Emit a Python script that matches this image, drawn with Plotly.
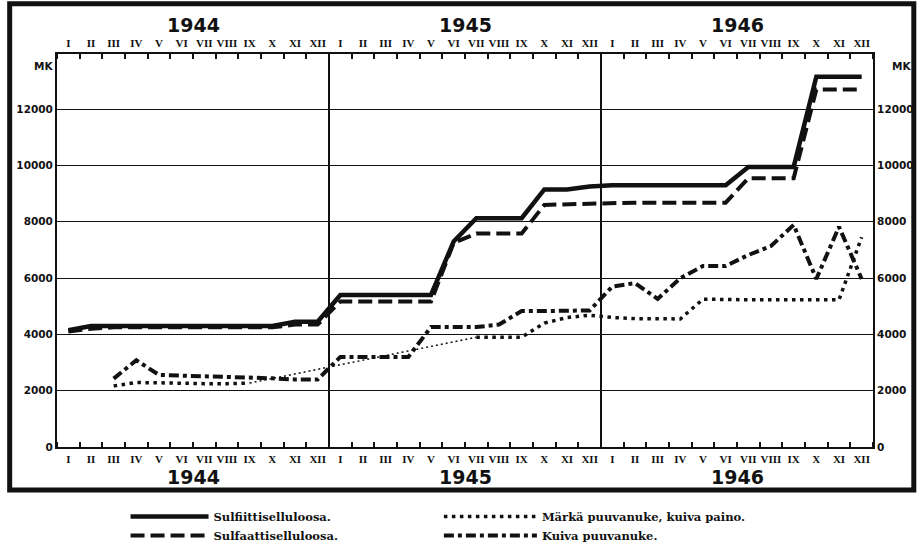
import plotly.graph_objects as go

# ---------------- data ----------------
years = [1944, 1945, 1946]
roman = ["I", "II", "III", "IV", "V", "VI", "VII", "VIII", "IX", "X", "XI", "XII"]
y_ticks = [0, 2000, 4000, 6000, 8000, 10000, 12000]

# monthly values Jan 1944 ... Dec 1946 (Mk)
sulfiitti = [4150, 4300, 4300, 4300, 4300, 4300, 4300, 4300, 4300, 4300, 4450, 4450,
             5400, 5400, 5400, 5400, 5400, 7300, 8130, 8130, 8130, 9150, 9150, 9250,
             9300, 9300, 9300, 9300, 9300, 9300, 9950, 9950, 9950, 13150, 13150, 13150]
sulfaatti = [4100, 4200, 4250, 4250, 4250, 4250, 4250, 4250, 4250, 4250, 4350, 4350,
             5170, 5170, 5170, 5170, 5170, 7250, 7580, 7580, 7580, 8600, 8620, 8650,
             8680, 8680, 8680, 8680, 8680, 8680, 9550, 9550, 9550, 12700, 12700, 12700]
marka = [None, None, 2170, 2290, 2280, 2250, 2250, 2250, 2270, None, None, None,
         None, None, None, None, None, None, 3900, 3900, 3900, 4400, 4600, 4680,
         4600, 4560, 4560, 4550, 5250, 5230, 5230, 5230, 5230, 5230, 5230, 7450]
# thin dotted bridge (no data between IX 1944 and VII 1945)
marka_bridge_month = [8, 18]
marka_bridge = [2270, 3900]
kuiva = [None, None, 2430, 3080, 2560, 2540, 2500, 2480, 2460, 2440, 2400, 2400,
         3200, 3200, 3200, 3200, 4260, 4260, 4260, 4350, 4830, 4830, 4830, 4850,
         5700, 5820, 5260, 6000, 6430, 6430, 6820, 7140, 7890, 5970, 7820, 5970]

n = len(sulfiitti)
x_centers = [i + 0.5 for i in range(n)]
month_labels = roman * len(years)

BLACK = "#111111"
serif = "Liberation Serif"
lserif = "DejaVu Serif"
sans = "DejaVu Sans"

fig = go.Figure()

fig.add_trace(go.Scatter(x=x_centers, y=sulfiitti, mode="lines", name="Sulfiittiselluloosa.",
                         line=dict(color=BLACK, width=4.5), legend="legend"))
fig.add_trace(go.Scatter(x=x_centers, y=sulfaatti, mode="lines", name="Sulfaattiselluloosa.",
                         line=dict(color=BLACK, width=4, dash="14px,6px"), legend="legend"))
fig.add_trace(go.Scatter(x=x_centers, y=marka, mode="lines", name="Märkä puuvanuke, kuiva paino.",
                         line=dict(color=BLACK, width=3.5, dash="3.5px,4.5px"),
                         connectgaps=False, legend="legend2"))
fig.add_trace(go.Scatter(x=[m + 0.5 for m in marka_bridge_month], y=marka_bridge, mode="lines",
                         showlegend=False, line=dict(color=BLACK, width=1.5, dash="2px,3px")))
fig.add_trace(go.Scatter(x=x_centers, y=kuiva, mode="lines", name="Kuiva puuvanuke.",
                         line=dict(color=BLACK, width=4, dash="10px,4px,4px,4px"),
                         connectgaps=False, legend="legend2"))

xcommon = dict(range=[0, n], tickmode="array", tickvals=x_centers, ticktext=month_labels,
               ticks="", showgrid=False, zeroline=False, showline=True, linecolor=BLACK,
               linewidth=2, tickangle=0, automargin=False,
               tickfont=dict(family=serif, size=11, color=BLACK, weight="bold"),
               minor=dict(tickmode="linear", tick0=0, dtick=1, ticks="inside", ticklen=5,
                          tickwidth=1.5, tickcolor=BLACK, showgrid=False),
               fixedrange=True)
ycommon = dict(range=[0, 13960], tickmode="array", tickvals=y_ticks,
               ticktext=[str(v) for v in y_ticks], showline=True, linecolor=BLACK,
               linewidth=2, zeroline=False, ticks="", automargin=False,
               tickfont=dict(family=sans, size=10.5, color=BLACK, weight="bold"))

fig.update_layout(
    width=920, height=554,
    margin=dict(l=57, r=47, t=54, b=107, autoexpand=False),
    paper_bgcolor="white", plot_bgcolor="white",
    xaxis=dict(**xcommon, side="bottom", ticklabelstandoff=1),
    xaxis2=dict(**xcommon, side="top", overlaying="x", anchor="y", matches="x",
                ticklabelstandoff=1),
    yaxis=dict(**ycommon, showgrid=True, gridcolor=BLACK, gridwidth=1.3),
    yaxis2=dict(**ycommon, overlaying="y", side="right", anchor="x", matches="y",
                showgrid=False),
    legend=dict(x=0.084, y=-0.14, xanchor="left", yanchor="top", itemwidth=78,
                font=dict(family=lserif, size=11.5, color=BLACK, weight="bold"),
                tracegroupgap=0, bgcolor="rgba(0,0,0,0)"),
    legend2=dict(x=0.468, y=-0.14, xanchor="left", yanchor="top", itemwidth=93,
                 font=dict(family=lserif, size=11.5, color=BLACK, weight="bold"),
                 tracegroupgap=0, bgcolor="rgba(0,0,0,0)"),
    showlegend=True,
)

# dummy trace to keep the top axis alive
fig.add_trace(go.Scatter(x=[x_centers[0]], y=[sulfiitti[0]], xaxis="x2", yaxis="y2",
                         mode="markers", marker=dict(size=1, opacity=0),
                         showlegend=False, hoverinfo="skip"))

# year dividers
for k in range(1, len(years)):
    fig.add_shape(type="line", xref="x", yref="paper", x0=12 * k, x1=12 * k, y0=0, y1=1,
                  line=dict(color=BLACK, width=2))

# year labels top and bottom
for k, yr in enumerate(years):
    for ypos in (1.074, -0.0775):
        fig.add_annotation(x=12 * k + 6, y=ypos, xref="x", yref="paper", text=str(yr),
                           showarrow=False, yanchor="middle",
                           font=dict(family=sans, size=19, color=BLACK, weight="bold"))

# MK labels
fig.add_annotation(x=-0.031, y=0.99, xref="paper", yref="paper", text="MK", showarrow=False,
                   font=dict(family=sans, size=10.5, color=BLACK, weight="bold"))
fig.add_annotation(x=1.021, y=0.99, xref="paper", yref="paper", text="MK", showarrow=False,
                   xanchor="left",
                   font=dict(family=sans, size=10.5, color=BLACK, weight="bold"))

# outer frame
fig.add_shape(type="rect", xref="paper", yref="paper", x0=-0.058, x1=1.050,
              y0=-0.1094, y1=1.128, line=dict(color=BLACK, width=5), layer="above")

# remove the browser's default page margin so the figure sits at the window origin
fig.write_html("out.html", config={"displayModeBar": False},
               post_script="document.body.style.margin='0';")
